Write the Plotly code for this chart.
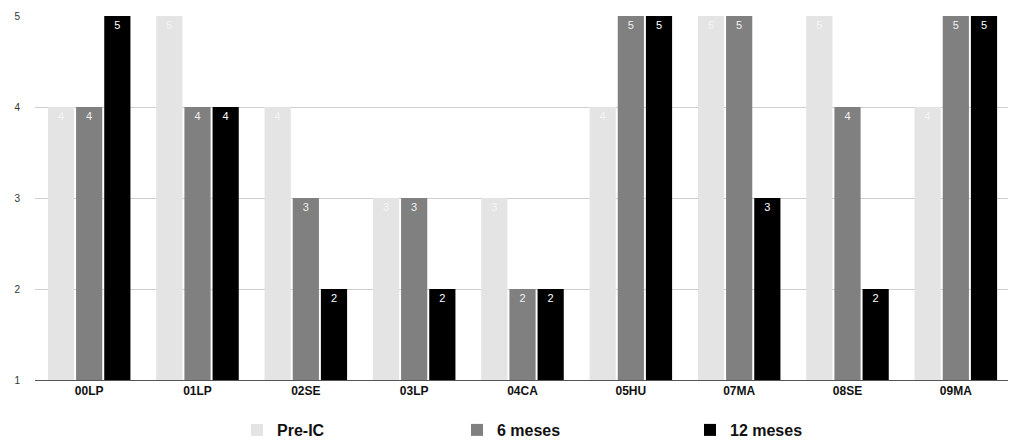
import plotly.graph_objects as go

categories = ["00LP", "01LP", "02SE", "03LP", "04CA", "05HU", "07MA", "08SE", "09MA"]
pre_ic = [4, 5, 4, 3, 3, 4, 5, 5, 4]
seis_meses = [4, 4, 3, 3, 2, 5, 5, 4, 5]
doce_meses = [5, 4, 2, 2, 2, 5, 3, 2, 5]
y_ticks = [1, 2, 3, 4, 5]

series = [
    ("Pre-IC", pre_ic, "#e4e4e4", "#f4f4f4", "legend", 229),
    ("6 meses", seis_meses, "#808080", "#f0f0f0", "legend2", 449),
    ("12 meses", doce_meses, "#000000", "#ffffff", "legend3", 682),
]

W, H = 1008, 437

fig = go.Figure()
for name, vals, col, tcol, lg, _ in series:
    fig.add_trace(go.Bar(
        x=categories, y=vals, name=name, legend=lg,
        marker=dict(color=col, line=dict(width=0)),
        text=[str(v) for v in vals],
        textposition="inside", insidetextanchor="end",
        textfont=dict(family="Liberation Sans, Arial", size=11, color=tcol),
        constraintext="none",
    ))

legend_font = dict(family="Liberation Sans, Arial", size=16, color="#111", weight="bold")
layout_legends = {}
for name, vals, col, tcol, lg, lx in series:
    layout_legends[lg] = dict(
        orientation="h", xref="container", x=lx / W, xanchor="left",
        yref="container", y=15 / H, yanchor="middle",
        font=legend_font, bgcolor="rgba(0,0,0,0)",
    )

fig.update_layout(
    width=W, height=H,
    barmode="group", bargap=0.22, bargroupgap=0.07,
    plot_bgcolor="white", paper_bgcolor="white",
    margin=dict(l=27, r=6, t=8, b=65, autoexpand=False),
    showlegend=True,
    font=dict(family="Liberation Sans, Arial"),
    **layout_legends,
)
fig.update_xaxes(
    showline=True, linecolor="#555", linewidth=1,
    tickfont=dict(family="Liberation Sans, Arial", size=12, color="#111", weight="bold"),
    ticks="", showgrid=False, automargin=False,
)
fig.update_yaxes(
    range=[1, 5], tickvals=y_ticks, showgrid=True, gridcolor="#cfcfcf",
    zeroline=False, showline=False, automargin=False,
    tickfont=dict(family="Liberation Sans, Arial", size=10, color="#333"),
    ticklabelstandoff=14,
)
fig.write_html("out.html")
